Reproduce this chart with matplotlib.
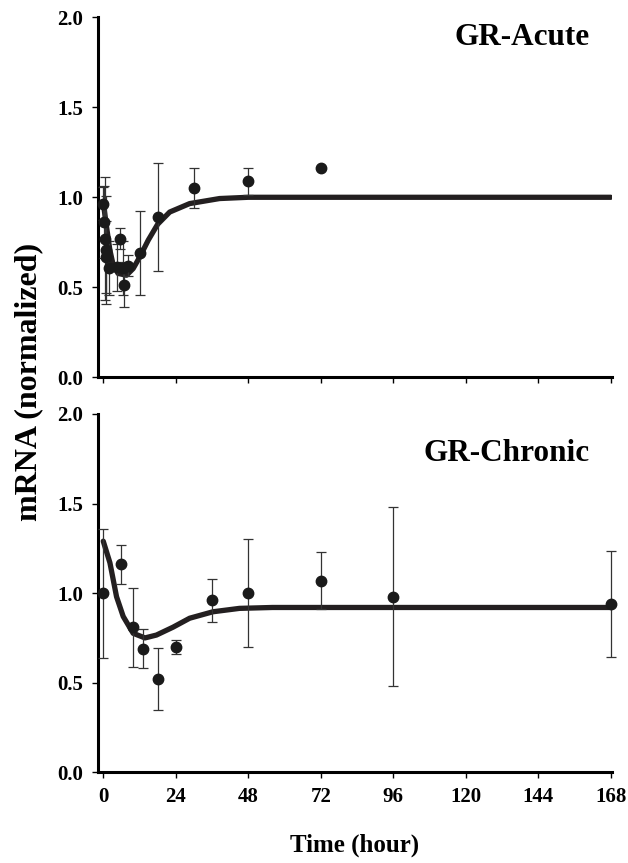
import matplotlib
matplotlib.use("Agg")
import matplotlib.pyplot as plt

# GR-Acute: measured points
acute_t = [0, 0.25, 0.5, 0.75, 1, 2, 4.5, 5.5, 6.5, 7, 8.3, 12, 18, 30, 48, 72]
acute_y = [0.965, 0.86, 0.77, 0.705, 0.67, 0.605, 0.61, 0.77, 0.605, 0.515,
           0.62, 0.69, 0.89, 1.05, 1.09, 1.16]
acute_err = [0.09, 0.2, 0.34, 0.3, 0.2, 0.15, 0.13, 0.06, 0.15, 0.125,
             0.06, 0.235, 0.3, 0.11, 0.075, 0.0]

# GR-Acute: model fit
acute_fit_t = [0, 1.1, 2.2, 3.3, 4.9, 7.7, 9.9, 12.1, 14.9, 18, 22, 28.6,
               38.5, 48, 72, 96, 120, 144, 168]
acute_fit_y = [0.97, 0.835, 0.706, 0.623, 0.577, 0.567, 0.604, 0.669, 0.762,
               0.85, 0.918, 0.965, 0.993, 1.0, 1.0, 1.0, 1.0, 1.0, 1.0]

# GR-Chronic: measured points
chronic_t = [0, 6, 10, 13, 18, 24, 36, 48, 72, 96, 168]
chronic_y = [1.0, 1.16, 0.81, 0.69, 0.52, 0.70, 0.96, 1.0, 1.07, 0.98, 0.94]
chronic_err = [0.36, 0.11, 0.22, 0.11, 0.175, 0.04, 0.12, 0.30, 0.16, 0.50, 0.295]

# GR-Chronic: model fit
chronic_fit_t = [0, 2.2, 4.4, 6.6, 9.9, 13.8, 17.6, 23.1, 28.6, 36.3, 45.1,
                 56, 72, 96, 120, 144, 168]
chronic_fit_y = [1.29, 1.17, 0.98, 0.87, 0.776, 0.75, 0.766, 0.81, 0.86,
                 0.896, 0.915, 0.92, 0.92, 0.92, 0.92, 0.92, 0.92]

xticks = [0, 24, 48, 72, 96, 120, 144, 168]
yticks = [0.0, 0.5, 1.0, 1.5, 2.0]

plt.rcParams["font.family"] = ["Liberation Serif", "DejaVu Serif"]
plt.rcParams["font.weight"] = "bold"

fig = plt.figure(figsize=(6.28, 8.63), dpi=100)
left, width = 0.156, 0.819
ax1 = fig.add_axes([left, 0.5628, width, 0.4172])
ax2 = fig.add_axes([left, 0.1051, width, 0.4152])

panels = [
    (ax1, acute_t, acute_y, acute_err, acute_fit_t, acute_fit_y, "GR-Acute", 0.944),
    (ax2, chronic_t, chronic_y, chronic_err, chronic_fit_t, chronic_fit_y, "GR-Chronic", 0.891),
]

for ax, t, y, err, ft, fy, name, ty in panels:
    ax.plot(ft, fy, color="#231f20", lw=3.8, solid_capstyle="round", zorder=2)
    ax.errorbar(t, y, yerr=err, fmt="o", color="#1a1a1a", ms=7.5,
                ecolor="#333333", elinewidth=0.9, capsize=3.5, capthick=0.9,
                zorder=3, clip_on=False)
    ax.set_xlim(-1.75, 168.5)
    ax.set_ylim(0, 2.0)
    ax.set_xticks(xticks)
    ax.set_yticks(yticks)
    ax.set_yticklabels([f"{v:.1f}" for v in yticks])
    ax.spines["top"].set_visible(False)
    ax.spines["right"].set_visible(False)
    ax.spines["left"].set_linewidth(2.2)
    ax.spines["bottom"].set_linewidth(2.2)
    ax.tick_params(direction="out", length=4.5, width=1, labelsize=15, pad=6)
    ax.text(0.956, ty, name, transform=ax.transAxes, ha="right", va="center",
            fontsize=22.5, fontweight="bold")

ax1.tick_params(axis="x", labelbottom=False)

fig.text(0.045, 0.557, "mRNA (normalized)", rotation=90, ha="center",
         va="center", fontsize=23, fontweight="bold")
fig.text(0.565, 0.021, "Time (hour)", ha="center", va="center",
         fontsize=18, fontweight="bold")

fig.savefig("out.png", dpi=100)
